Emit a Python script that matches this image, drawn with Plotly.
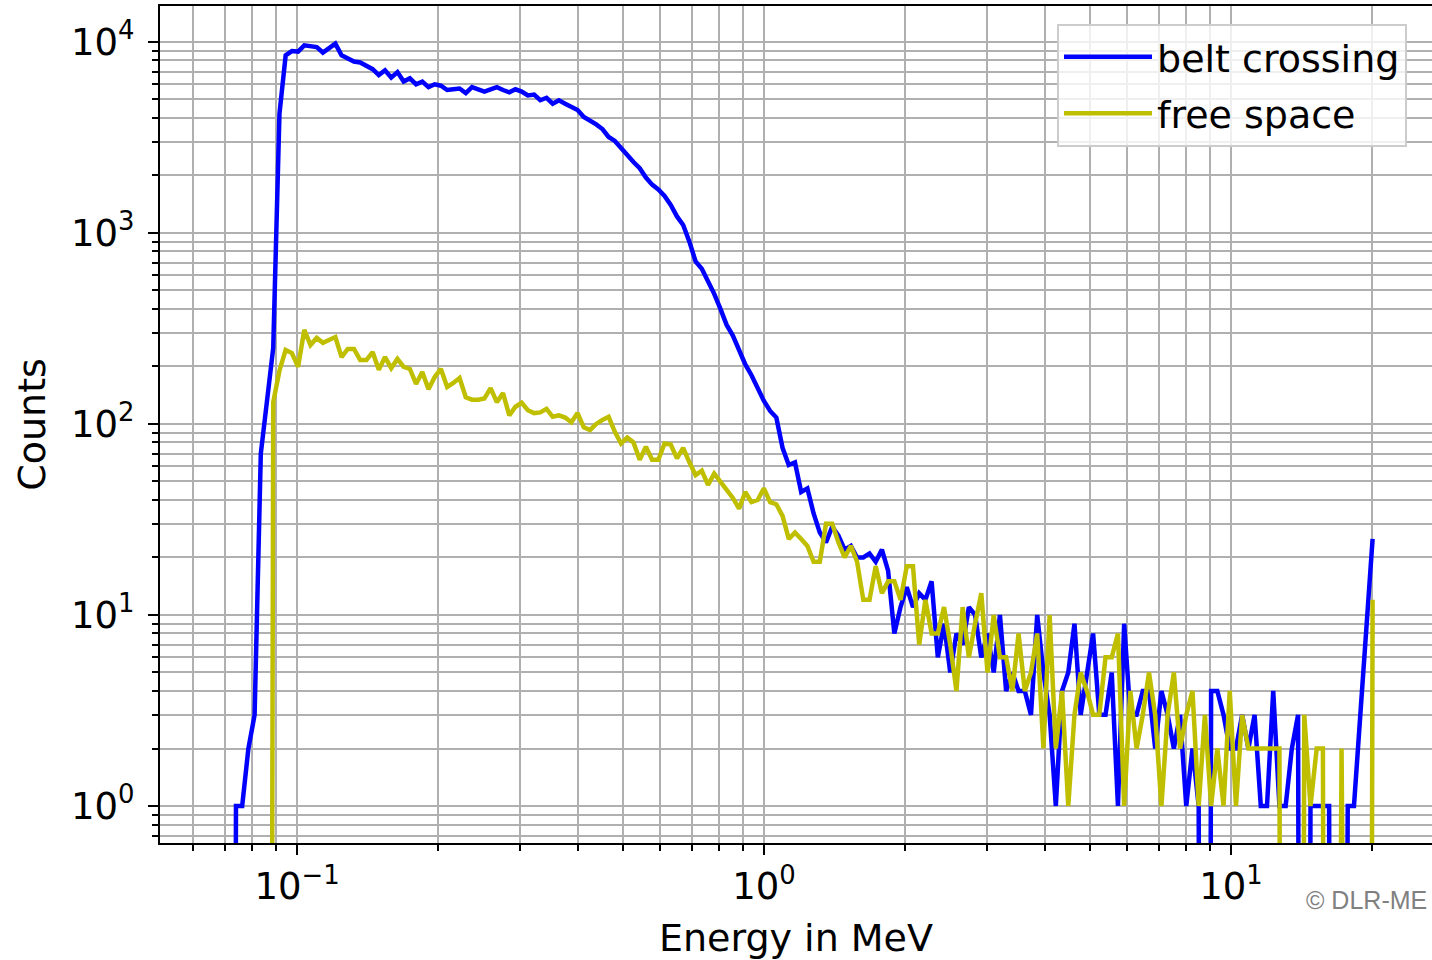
import numpy as np
import plotly.graph_objects as go

# ---- data ----
# histogram bin centres: log-spaced energy bins in MeV
E_FIRST = 0.0635
E_LAST = 20.1
N_BINS = 189
energy = np.geomspace(E_FIRST, E_LAST, N_BINS)

belt_crossing = [
    0, 0, 0, 0, 0,
    1, 1, 2, 3, 70, 140, 250, 4200, 8500, 8950,
    8900, 9600, 9450, 9400, 8800, 9300, 9800, 8500, 8200, 7900,
    7800, 7500, 7200, 6700, 7100, 6500, 6950, 6200, 6450, 6000,
    6200, 5800, 6000, 5900, 5600, 5650, 5700, 5400, 5800, 5650,
    5500, 5650, 5800, 5600, 5450, 5650, 5500, 5250, 5300, 4950,
    5100, 4750, 4950, 4750, 4550, 4400, 4050, 3900, 3700, 3500,
    3180, 3030, 2780, 2520, 2350, 2180, 1950, 1790, 1690, 1560,
    1400, 1220, 1100, 900, 710, 650, 560, 480, 400, 330,
    290, 245, 205, 180, 152, 132, 117, 108, 75, 61,
    63, 44, 46, 34, 27, 24, 29, 26, 22, 23,
    20, 20, 21, 19, 22, 17, 8, 11, 14, 11,
    13, 12, 15, 6, 9, 5, 8, 7, 11, 10,
    6, 8, 5, 10, 4, 5, 4, 4, 3, 10,
    5, 3, 1, 4, 5, 9, 3, 5, 8, 3,
    3, 5, 1, 9, 3, 3, 4, 4, 2, 4,
    3, 2, 3, 1, 2, 1, 0, 4, 4, 3,
    2, 2, 3, 2, 3, 1, 1, 4, 1, 1,
    2, 3, 0, 1, 1, 1, 1, 0, 0, 1,
    1, 3, 9, 25,
]

free_space = [
    0, 0, 0, 0, 0,
    0, 0, 0, 0, 0, 0, 130, 190, 244, 235,
    199, 311, 259, 282, 266, 277, 285, 224, 247, 247,
    216, 216, 238, 192, 224, 196, 219, 199, 194, 162,
    187, 152, 176, 194, 156, 164, 174, 138, 134, 134,
    136, 154, 130, 145, 111, 123, 129, 118, 114, 115,
    120, 109, 111, 108, 102, 114, 96, 93, 100, 105,
    109, 91, 79, 85, 80, 65, 76, 65, 65, 79,
    78, 66, 75, 63, 54, 57, 48, 55, 50, 46,
    41, 36, 44, 39, 40, 46, 39, 38, 33, 25,
    27, 25, 23, 19, 19, 30, 30, 24, 20, 23,
    19, 12, 12, 18, 13, 15, 15, 12, 18, 18,
    7, 12, 8, 8, 11, 7, 4, 11, 6, 9,
    13, 5, 10, 6, 6, 4, 8, 4, 5, 8,
    2, 10, 2, 4, 1, 3, 5, 4, 3, 3,
    6, 6, 8, 1, 4, 2, 3, 5, 3, 1,
    3, 5, 2, 3, 4, 1, 3, 1, 2, 1,
    4, 1, 3, 2, 2, 2, 2, 2, 2, 0,
    0, 0, 3, 1, 2, 2, 0, 0, 2, 0,
    0, 0, 0, 12,
]

series_names = ["belt crossing", "free space"]
series_colors = ["#0000ff", "#bfbf00"]

x_tick_vals = [0.1, 1, 10]
x_tick_text = ["10<sup>\u22121</sup>", "10<sup>0</sup>", "10<sup>1</sup>"]
y_tick_vals = [1, 10, 100, 1000, 10000]
y_tick_text = ["10<sup>0</sup>", "10<sup>1</sup>", "10<sup>2</sup>", "10<sup>3</sup>", "10<sup>4</sup>"]

x_title = "Energy in MeV"
y_title = "Counts"
credit = "\u00a9 DLR-ME"

# ---- figure ----
FONT = "DejaVu Sans"
GRID = "#b0b0b0"


def log_safe(vals):
    # empty bins (0 counts) are sent far below the axis so the line drops off the plot
    return [v if v > 0 else 1e-12 for v in vals]


fig = go.Figure()
for k, (name, vals, col) in enumerate(zip(series_names, [belt_crossing, free_space], series_colors)):
    fig.add_trace(go.Scatter(
        x=energy, y=log_safe(vals), mode="lines", name=name,
        legendgroup="g%d" % k,
        line=dict(color=col, width=4.5),
    ))


def minor_vals(lo_exp, hi_exp):
    out = []
    for e in range(lo_exp, hi_exp + 1):
        for m in range(2, 10):
            out.append(m * 10.0 ** e)
    return out


fig.update_layout(
    width=1432, height=960,
    margin=dict(l=160, r=0, t=6, b=117),
    paper_bgcolor="white", plot_bgcolor="white",
    font=dict(family=FONT, size=37, color="black"),
    showlegend=True,
    legend=dict(
        x=0.7052, y=0.979, xanchor="left", yanchor="top",
        bgcolor="rgba(255,255,255,0.8)", bordercolor="#cccccc", borderwidth=2,
        font=dict(family=FONT, size=38, color="black"),
        itemwidth=88, tracegroupgap=4,
    ),
    xaxis=dict(
        type="log", range=[-1.2934, 1.4304],
        tickmode="array", tickvals=x_tick_vals, ticktext=x_tick_text,
        ticks="outside", ticklen=10, tickwidth=2, tickcolor="black",
        showline=True, linecolor="black", linewidth=2, mirror=True,
        showgrid=True, gridcolor=GRID, gridwidth=2,
        minor=dict(tickmode="array", tickvals=minor_vals(-2, 1), ticks="outside",
                   ticklen=6, tickwidth=1.5, tickcolor="black",
                   showgrid=True, gridcolor=GRID, gridwidth=2),
        title=dict(text=x_title, font=dict(size=38), standoff=20),
        tickfont=dict(size=37),
        zeroline=False,
    ),
    yaxis=dict(
        type="log", range=[-0.1937, 4.188],
        tickmode="array", tickvals=y_tick_vals, ticktext=y_tick_text,
        ticks="outside", ticklen=10, tickwidth=2, tickcolor="black",
        showline=True, linecolor="black", linewidth=2, mirror=False,
        showgrid=True, gridcolor=GRID, gridwidth=2,
        minor=dict(tickmode="array", tickvals=minor_vals(-1, 4), ticks="outside",
                   ticklen=6, tickwidth=1.5, tickcolor="black",
                   showgrid=True, gridcolor=GRID, gridwidth=2),
        title=dict(text=y_title, font=dict(size=38), standoff=14),
        tickfont=dict(size=37),
        ticklabelstandoff=6,
        zeroline=False,
    ),
    annotations=[dict(
        text=credit, xref="paper", yref="paper", x=0.899, y=-0.068,
        xanchor="left", yanchor="middle", showarrow=False,
        font=dict(family="Liberation Sans", size=25, color="#808080"),
    )],
)

fig.write_html("out.html", config={"displayModeBar": False},
               post_script="document.body.style.margin='0';")
